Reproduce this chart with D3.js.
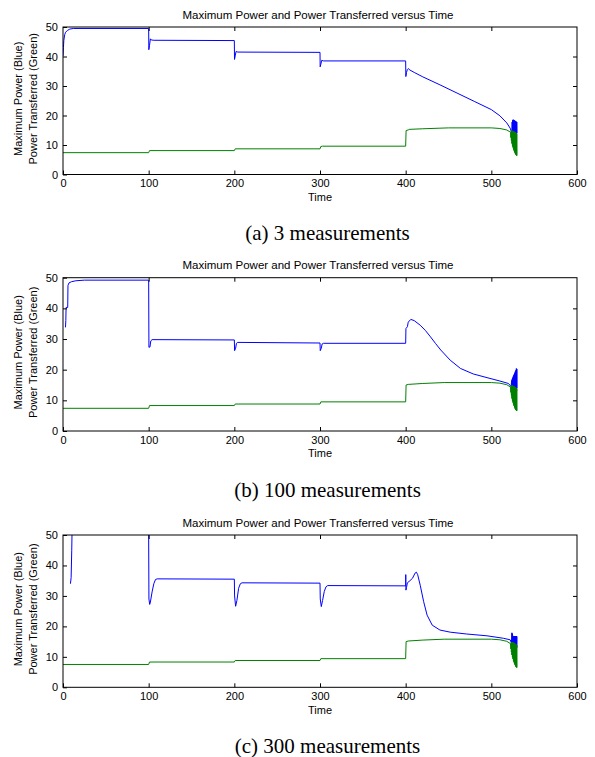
<!DOCTYPE html>
<html><head><meta charset="utf-8">
<script src="https://cdn.jsdelivr.net/npm/d3@7"></script>
<style>body{margin:0;background:#fff}svg{display:block}</style>
</head><body>
<svg id="c" width="595" height="757"></svg>
<script>
// ---------- data ----------
const xTicks = [0, 100, 200, 300, 400, 500, 600];
const yTicks = [0, 10, 20, 30, 40, 50];
const titleText = "Maximum Power and Power Transferred versus Time";
const xLabel = "Time";
const yLabel1 = "Maximum Power (Blue)";
const yLabel2 = "Power Transferred (Green)";
const captions = ["(a) 3 measurements", "(b) 100 measurements", "(c) 300 measurements"];

// Panel (a)
const blueA = [[0,40.2],[0.5,43],[1,45.5],[2,47.4],[3,48.2],[5,48.8],[8,49.3],[12,49.5],[100,49.5],[100.2,42.3],[101,43.8],[102,46],[103,45.6],[106,45.5],[200,45.4],[200.2,39],[201,40.2],[202,41.7],[204,41.5],[300,41.4],[300.2,36.5],[301,37.4],[302,38.7],[304,38.5],[400,38.5],[400.2,33.2],[401,34.6],[402,35.6],[403,35.9],[405,35.4],[410,34.6],[420,33.1],[440,30.4],[460,27.6],[480,24.8],[500,22],[510,19.9],[518,17.5],[522,15.7],[524,14]];
const blueOscA = [[524.3,17.8],[524.6,13.8],[524.9,18.4],[525.2,13.5],[525.5,18.6],[525.8,13.4],[526.1,18.5],[526.4,13.3],[526.7,18.4],[527,13.2],[527.3,18.3],[527.6,13.1],[527.9,18.1],[528.2,13],[528.5,18],[528.8,13],[529.1,17.9],[529.4,13],[529.7,17.8],[530,14]];
const greenA = [[0,7.4],[100,7.4],[101,8.1],[200,8.1],[201,8.7],[300,8.7],[301,9.5],[303,9.6],[400,9.6],[400.5,14.9],[403,15.1],[404,15.3],[420,15.5],[440,15.7],[450,15.8],[500,15.8],[510,15.6],[518,15.1],[522,14.4]];
const greenOscA = [[522.5,14.3],[522.8,12.5],[523.1,14.6],[523.4,11.5],[523.7,14.8],[524,10.5],[524.3,14.8],[524.6,9.8],[524.9,14.8],[525.2,9.2],[525.5,14.7],[525.8,8.6],[526.1,14.6],[526.4,8.1],[526.7,14.5],[527,7.6],[527.3,14.4],[527.6,7.2],[527.9,14.3],[528.2,6.9],[528.5,14.2],[528.8,6.6],[529.1,14],[529.4,6.4],[529.7,13.8],[530,6.4]];

// Panel (b)
const blueB = [[2.9,33.8],[3.3,36],[3.6,40.3],[5.5,40.3],[5.8,47.5],[7,48.3],[10,48.7],[15,49],[25,49.2],[100,49.2],[100.3,27.3],[101.5,27.4],[102.5,29.4],[104,29.8],[200,29.7],[200.3,26.2],[201.5,27],[202.5,28.6],[204,28.9],[300,28.7],[300.3,26.2],[301.5,27],[302.5,28.4],[304,28.6],[400,28.6],[400.3,33.4],[402,34],[403,35.5],[406,36.4],[410,36],[417,34.5],[423,32.8],[429,30.7],[435,28.5],[441,26.4],[452,23.1],[464,20.4],[479,18.6],[495,17.4],[510,16.3],[520,15.5],[523,14.5]];
const blueOscB = [[523.8,16.5],[524.1,13.8],[524.4,17],[524.7,13.6],[525,17.4],[525.3,13.5],[525.6,17.8],[525.9,13.4],[526.2,18.2],[526.5,13.3],[526.8,18.6],[527.1,13.2],[527.4,19],[527.7,13.1],[528,19.4],[528.3,13],[528.6,19.8],[528.9,13],[529.2,20.4],[529.5,13],[529.8,20.2],[530,14]];
const greenB = [[0,7.4],[100,7.4],[101,8.3],[200,8.3],[201,8.8],[300,8.8],[301,9.5],[400,9.5],[400.5,15],[403,15.2],[420,15.5],[445,15.8],[500,15.8],[510,15.6],[518,15.1],[522,14.4]];
const greenOscB = [[522.5,14.3],[522.8,12.6],[523.1,14.6],[523.4,11.6],[523.7,14.8],[524,10.6],[524.3,14.8],[524.6,9.9],[524.9,14.8],[525.2,9.3],[525.5,14.7],[525.8,8.7],[526.1,14.6],[526.4,8.2],[526.7,14.5],[527,7.7],[527.3,14.4],[527.6,7.3],[527.9,14.3],[528.2,7],[528.5,14.2],[528.8,6.8],[529.1,14],[529.4,6.6],[529.7,13.8],[530,6.6]];

// Panel (c)
const blueC = [[8.7,34],[9.5,36],[10.2,45],[10.8,55],[99.9,55],[100.3,29],[101.2,27.2],[102,28],[104,31.3],[106,34],[108,35.4],[110,35.6],[200,35.5],[200.3,30],[201.5,26.6],[203,28.5],[205,32.5],[207,34],[209,34.3],[300,34.2],[300.3,29],[301.5,26.5],[303,28.5],[305,31.5],[307,33],[309,33.4],[400,33.3],[400.1,37],[400.3,31.9],[401,32.8],[402,34.3],[405,35],[408,35.8],[411,37.5],[412.5,37.8],[414,37],[417,33.5],[421,28.1],[425,23.7],[431,20.4],[440,18.8],[452,18.1],[471,17.5],[495,16.9],[514,16.1],[522,15.6],[523.5,14.5]];
const blueOscC = [[524,17.9],[524.3,13.8],[524.6,17.6],[524.9,13.6],[525.2,16.9],[525.5,13.5],[525.8,16.8],[526.1,13.4],[526.4,16.8],[526.7,13.3],[527,16.8],[527.3,13.2],[527.6,16.8],[527.9,13.1],[528.2,16.8],[528.5,13],[528.8,16.8],[529.1,13],[529.4,16.8],[529.7,13],[530,16.7]];
const greenC = [[0,7.5],[100,7.5],[101,8.3],[200,8.3],[201,8.8],[300,8.8],[301,9.4],[400,9.4],[400.5,15],[403,15.2],[420,15.5],[445,15.8],[500,15.8],[510,15.6],[518,15.1],[522,14.4]];
const greenOscC = [[522.5,14.3],[522.8,12.6],[523.1,14.6],[523.4,11.6],[523.7,14.8],[524,10.6],[524.3,14.8],[524.6,9.9],[524.9,14.8],[525.2,9.3],[525.5,14.7],[525.8,8.7],[526.1,14.6],[526.4,8.2],[526.7,14.5],[527,7.7],[527.3,14.4],[527.6,7.3],[527.9,14.3],[528.2,6.9],[528.5,14.2],[528.8,6.7],[529.1,14],[529.4,6.5],[529.7,13.8],[530,6.5]];

const panels = [
  {caption: captions[0], blue: blueA.concat(blueOscA), green: greenA.concat(greenOscA)},
  {caption: captions[1], blue: blueB.concat(blueOscB), green: greenB.concat(greenOscB)},
  {caption: captions[2], blue: blueC.concat(blueOscC), green: greenC.concat(greenOscC)}
];

// ---------- layout ----------
const layout = [{top: 27, bottom: 174.5}, {top: 277.7, bottom: 431}, {top: 535, bottom: 687.3}];
const left = 63, right = 577;
const sans = "'Liberation Sans', Arial, sans-serif";
const serif = "'Liberation Serif', 'Times New Roman', serif";
const svg = d3.select("#c");
svg.append("rect").attr("width", 595).attr("height", 757).attr("fill", "#fff");

panels.forEach((p, i) => {
  const L = layout[i];
  const x = d3.scaleLinear().domain([0, 600]).range([left, right]);
  const y = d3.scaleLinear().domain([0, 50]).range([L.bottom, L.top]);
  const g = svg.append("g");

  const clipId = "clip" + i;
  g.append("clipPath").attr("id", clipId).append("rect")
    .attr("x", left).attr("y", L.top).attr("width", right - left).attr("height", L.bottom - L.top);

  const line = d3.line().x(d => x(d[0])).y(d => y(d[1]));
  const plot = g.append("g").attr("clip-path", `url(#${clipId})`);
  plot.append("path").datum(p.blue).attr("d", line)
    .attr("fill", "none").attr("stroke", "#0000ff").attr("stroke-width", 1);
  plot.append("path").datum(p.green).attr("d", line)
    .attr("fill", "none").attr("stroke", "#008000").attr("stroke-width", 1);

  const tick = 4;
  const styleAxis = sel => {
    sel.select(".domain").remove();
    sel.selectAll(".tick line").attr("stroke", "#000");
    sel.selectAll(".tick text").attr("fill", "#000").style("font-family", sans).style("font-size", "11px");
  };
  g.append("g").attr("transform", `translate(0,${L.bottom})`)
    .call(d3.axisBottom(x).tickValues(xTicks).tickFormat(d3.format("d")).tickSizeInner(-tick).tickSizeOuter(0).tickPadding(5))
    .call(styleAxis);
  g.append("g").attr("transform", `translate(0,${L.top})`)
    .call(d3.axisTop(x).tickValues(xTicks.slice(1, -1)).tickFormat("").tickSizeInner(-tick).tickSizeOuter(0))
    .call(styleAxis);
  g.append("g").attr("transform", `translate(${left},0)`)
    .call(d3.axisLeft(y).tickValues(yTicks).tickFormat(d3.format("d")).tickSizeInner(-tick).tickSizeOuter(0).tickPadding(5))
    .call(styleAxis);
  g.append("g").attr("transform", `translate(${right},0)`)
    .call(d3.axisRight(y).tickValues(yTicks.slice(1, -1)).tickFormat("").tickSizeInner(-tick).tickSizeOuter(0))
    .call(styleAxis);

  g.append("rect").attr("x", left).attr("y", L.top).attr("width", right - left).attr("height", L.bottom - L.top)
    .attr("fill", "none").attr("stroke", "#000").attr("stroke-width", 1);

  g.append("text").attr("x", (left + right) / 2 - 2).attr("y", L.top - 12.5).attr("dy", "0.35em")
    .attr("text-anchor", "middle").style("font-family", sans).style("font-size", "11.5px").attr("fill", "#000")
    .text(titleText);
  g.append("text").attr("x", (left + right) / 2).attr("y", L.bottom + 22.5).attr("dy", "0.35em")
    .attr("text-anchor", "middle").style("font-family", sans).style("font-size", "11px").attr("fill", "#000")
    .text(xLabel);
  const cy = (L.top + L.bottom) / 2 - 2;
  g.append("text").attr("transform", `translate(18,${cy}) rotate(-90)`).attr("dy", "0.35em")
    .attr("text-anchor", "middle").style("font-family", sans).style("font-size", "11px").attr("fill", "#000")
    .text(yLabel1);
  g.append("text").attr("transform", `translate(33,${cy}) rotate(-90)`).attr("dy", "0.35em")
    .attr("text-anchor", "middle").style("font-family", sans).style("font-size", "11px").attr("fill", "#000")
    .text(yLabel2);
  g.append("text").attr("x", 327.5).attr("y", L.bottom + 58.5).attr("dy", "0.35em")
    .attr("text-anchor", "middle").style("font-family", serif).style("font-size", "21px").attr("fill", "#000")
    .text(p.caption);
});
</script>
</body></html>
